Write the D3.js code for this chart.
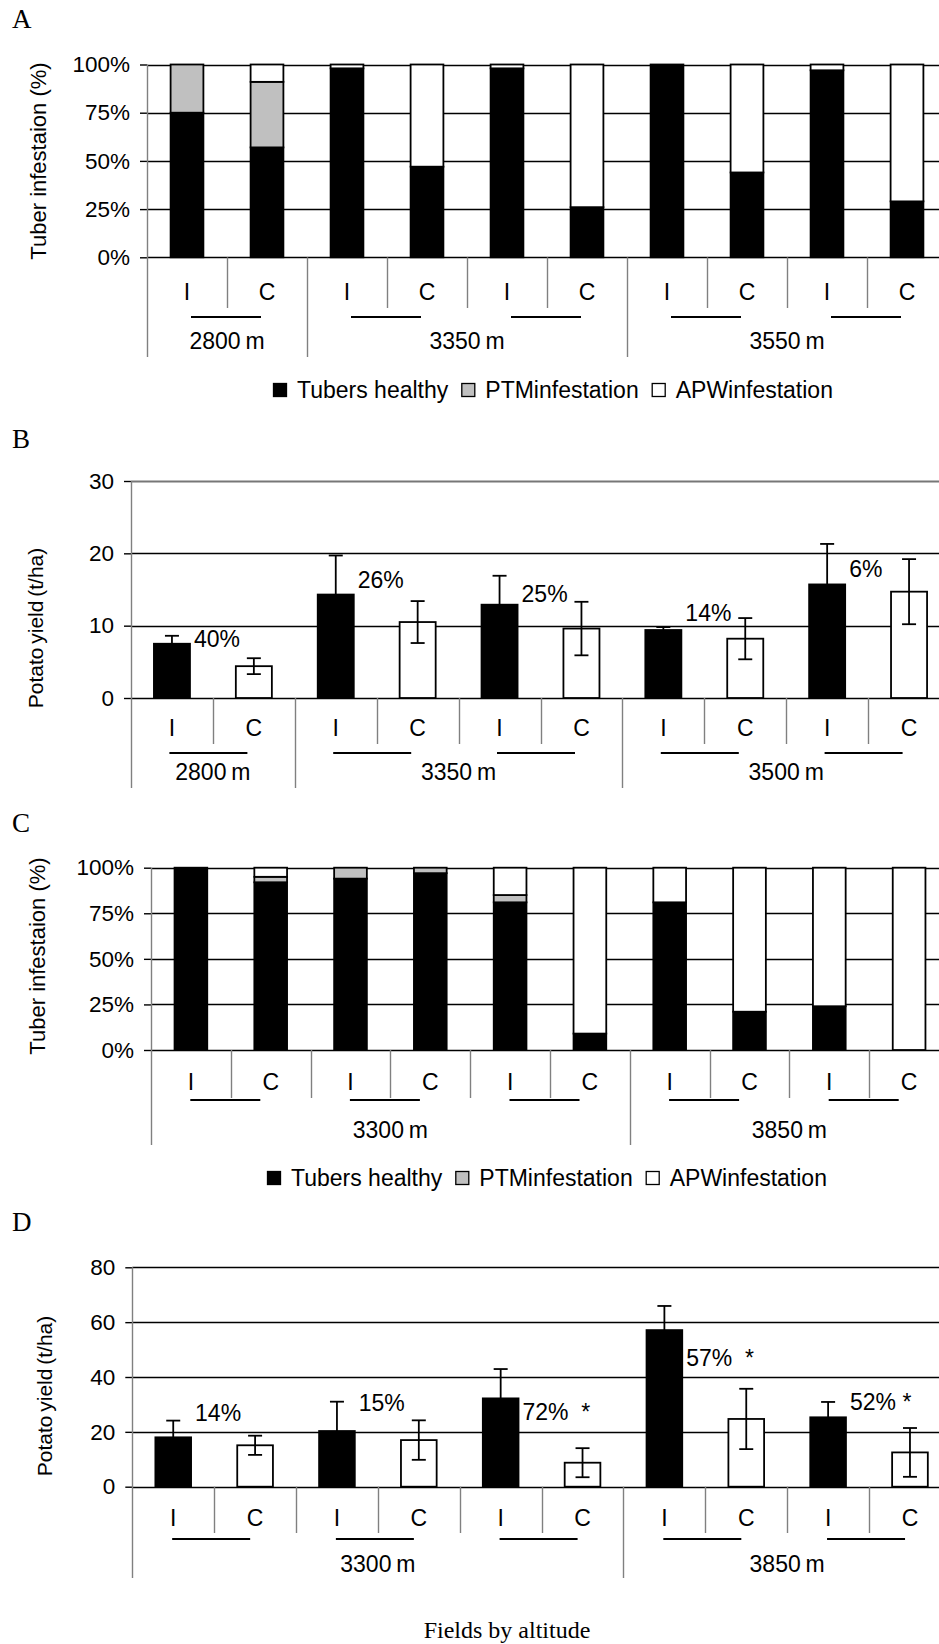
<!DOCTYPE html>
<html>
<head>
<meta charset="utf-8">
<script src="https://cdn.jsdelivr.net/npm/d3@7"></script>
<style>
  html, body { margin: 0; padding: 0; background: #fff; }
  svg text { font-family: "Liberation Sans", Arial, sans-serif; fill: #000; }
  svg text.serif { font-family: "Liberation Serif", "Times New Roman", serif; }
</style>
</head>
<body>
<svg id="chart" width="939" height="1644"></svg>
<script>
//******************************************************************************
//**  Data
//******************************************************************************
var treatments = ["I", "C", "I", "C", "I", "C", "I", "C", "I", "C"];
var stackKeys = ["healthy", "ptm", "apw"];
var legendLabels = ["Tubers healthy", "PTMinfestation", "APWinfestation"];

// A: tuber infestation (%)
var aGroups = ["2800 m", "3350 m", "3550 m"];
var aGroupSizes = [2, 4, 4];
var aHealthy = [75, 57, 98, 47, 98, 26, 100, 44, 97, 29];
var aPTM     = [25, 34, 0, 0, 0, 0, 0, 0, 0, 0];
var aAPW     = [0, 9, 2, 53, 2, 74, 0, 56, 3, 71];

// B: potato yield (t/ha)
var bGroups = ["2800 m", "3350 m", "3500 m"];
var bGroupSizes = [2, 4, 4];
var bYield = [7.5, 4.4, 14.3, 10.5, 12.9, 9.6, 9.4, 8.2, 15.7, 14.7];
var bError = [1.1, 1.1, 5.4, 2.9, 4.0, 3.7, 0.4, 2.85, 5.6, 4.5];
var bNotes = ["40%", "26%", "25%", "14%", "6%"];
var bNoteAt = [8.2, 16.3, 14.4, 11.8, 17.8];

// C: tuber infestation (%)
var cGroups = ["3300 m", "3850 m"];
var cGroupSizes = [6, 4];
var cHealthy = [100, 92, 94, 97, 81, 9, 81, 21, 24, 0];
var cPTM     = [0, 3, 6, 3, 4, 0, 0, 0, 0, 0];
var cAPW     = [0, 5, 0, 0, 15, 91, 19, 79, 76, 100];

// D: potato yield (t/ha)
var dGroups = ["3300 m", "3850 m"];
var dGroupSizes = [6, 4];
var dYield = [18, 15.1, 20.3, 17, 32.2, 8.75, 57.1, 24.7, 25.3, 12.5];
var dError = [6.1, 3.5, 10.7, 7.2, 10.7, 5.3, 8.8, 11, 5.6, 8.9];
var dNotes = ["14%", "15%", "72%  *", "57%  *", "52% *"];
var dNoteAt = [27, 30.6, 27.4, 46.8, 31];

var stackColors = ["#000000", "#c0c0c0", "#ffffff"];
var W = 939, H = 1644;
var FS = 23;

var svg = d3.select("#chart");
svg.append("rect").attr("width", W).attr("height", H).attr("fill", "#fff");


//**************************************************************************
//** drawFrame
//**************************************************************************
  // axes, gridlines, category labels, group labels and underlines
    var drawFrame = function(cfg){
        var g = svg.append("g");
        var n = treatments.length;

        var xb = d3.scaleLinear().domain([0, n]).range([cfg.x0, cfg.x0 + n*cfg.band]);
        var x = d3.scaleBand().domain(d3.range(n))
            .range([cfg.x0, cfg.x0 + n*cfg.band])
            .paddingInner(1 - cfg.barFrac)
            .paddingOuter((1 - cfg.barFrac)/2);
        var y = d3.scaleLinear().domain(cfg.domain).range([cfg.yBottom, cfg.yTop]);

      // gridlines
        g.append("g").selectAll("line").data(cfg.ticks).enter().append("line")
            .attr("x1", cfg.x0).attr("x2", W)
            .attr("y1", function(d){ return Math.round(y(d)) + 0.5; })
            .attr("y2", function(d){ return Math.round(y(d)) + 0.5; })
            .attr("stroke", function(d){ return (cfg.greyTop && d === cfg.domain[1]) ? "#777" : "#000"; })
            .attr("stroke-width", function(d){ return (cfg.greyTop && d === cfg.domain[1]) ? 2 : 1.4; });

      // y axis
        var axis = d3.axisLeft(y).tickValues(cfg.ticks).tickSize(7).tickPadding(10)
            .tickFormat(cfg.format);
        var ag = g.append("g").attr("transform", "translate(" + cfg.x0 + ",0)").call(axis);
        ag.select(".domain").remove();
        ag.selectAll("line").attr("stroke", "#000").attr("stroke-width", 1.4);
        ag.selectAll("text").attr("font-size", 22.5)
            .attr("font-family", "Liberation Sans, Arial, sans-serif");

      // y axis title
        g.append("text")
            .attr("transform", "translate(" + cfg.titleX + "," + cfg.titleY + ") rotate(-90)")
            .attr("text-anchor", "middle")
            .attr("dy", "0.35em")
            .attr("font-size", cfg.titleSize)
            .attr("word-spacing", cfg.titleWs)
            .text(cfg.title);

      // separators: long at group boundaries, short between categories
        var bounds = [0], acc = 0;
        cfg.groupSizes.forEach(function(s){ acc += s; bounds.push(acc); });
        var seps = d3.range(n + 1);
        g.append("g").selectAll("line").data(seps).enter().append("line")
            .attr("x1", function(d){ return Math.round(xb(d)) + 0.5; })
            .attr("x2", function(d){ return Math.round(xb(d)) + 0.5; })
            .attr("y1", function(d){ return d === 0 ? cfg.yTop : cfg.yBottom; })
            .attr("y2", function(d){ return bounds.indexOf(d) >= 0 ? cfg.longBottom : cfg.shortBottom; })
            .attr("stroke", "#808080")
            .attr("stroke-width", 1.4);

      // I / C labels
        g.append("g").selectAll("text").data(treatments).enter().append("text")
            .attr("x", function(d, i){ return x(i) + x.bandwidth()/2; })
            .attr("y", cfg.catY)
            .attr("dy", "0.35em")
            .attr("text-anchor", "middle")
            .attr("font-size", FS)
            .text(function(d){ return d; });

      // underlines joining each I/C pair
        var pairs = d3.range(n/2);
        g.append("g").selectAll("line").data(pairs).enter().append("line")
            .attr("x1", function(k){ return xb(2*k + 1) + cfg.ulShift - cfg.ulLen/2; })
            .attr("x2", function(k){ return xb(2*k + 1) + cfg.ulShift + cfg.ulLen/2; })
            .attr("y1", cfg.ulY).attr("y2", cfg.ulY)
            .attr("stroke", "#000").attr("stroke-width", 2);

      // group labels
        g.append("g").selectAll("text").data(cfg.groups).enter().append("text")
            .attr("x", function(d, i){ return (xb(bounds[i]) + xb(bounds[i+1]))/2; })
            .attr("y", cfg.groupY)
            .attr("dy", "0.35em")
            .attr("text-anchor", "middle")
            .attr("font-size", FS)
            .attr("word-spacing", -1.5)
            .text(function(d){ return d; });

      // panel letter
        g.append("text").attr("class", "serif")
            .attr("x", 12).attr("y", cfg.letterY)
            .attr("font-size", 27)
            .text(cfg.letter);

        return {g: g, x: x, y: y};
    };


//**************************************************************************
//** drawStacked
//**************************************************************************
    var drawStacked = function(frame, healthy, ptm, apw){
        var rows = treatments.map(function(t, i){
            return {healthy: healthy[i], ptm: ptm[i], apw: apw[i]};
        });
        var series = d3.stack().keys(stackKeys)(rows);
        var x = frame.x, y = frame.y;

        frame.g.append("g").selectAll("g").data(series).enter().append("g")
            .attr("fill", function(d, i){ return stackColors[i]; })
            .selectAll("rect")
            .data(function(d){ return d.map(function(v, i){ return {v: v, i: i}; })
                .filter(function(o){ return o.v[1] - o.v[0] > 0; }); })
            .enter().append("rect")
            .attr("x", function(o){ return x(o.i); })
            .attr("width", x.bandwidth())
            .attr("y", function(o){ return y(o.v[1]); })
            .attr("height", function(o){ return y(o.v[0]) - y(o.v[1]); })
            .attr("stroke", "#000")
            .attr("stroke-width", 1.8);
    };


//**************************************************************************
//** drawYield
//**************************************************************************
    var drawYield = function(frame, values, errors, notes, noteAt){
        var x = frame.x, y = frame.y;
        var g = frame.g.append("g");

        g.selectAll("rect").data(values).enter().append("rect")
            .attr("x", function(d, i){ return x(i); })
            .attr("width", x.bandwidth())
            .attr("y", function(d){ return y(d); })
            .attr("height", function(d){ return y(0) - y(d); })
            .attr("fill", function(d, i){ return treatments[i] === "I" ? "#000" : "#fff"; })
            .attr("stroke", "#000")
            .attr("stroke-width", 1.8);

        var cap = 7;
        var eb = g.selectAll("g.err").data(values).enter().append("g").attr("class", "err")
            .attr("stroke", "#000").attr("stroke-width", 1.8);
        eb.append("line")
            .attr("x1", function(d, i){ return x(i) + x.bandwidth()/2; })
            .attr("x2", function(d, i){ return x(i) + x.bandwidth()/2; })
            .attr("y1", function(d, i){ return y(d - errors[i]); })
            .attr("y2", function(d, i){ return y(d + errors[i]); });
        [-1, 1].forEach(function(s){
            eb.append("line")
                .attr("x1", function(d, i){ return x(i) + x.bandwidth()/2 - cap; })
                .attr("x2", function(d, i){ return x(i) + x.bandwidth()/2 + cap; })
                .attr("y1", function(d, i){ return y(d + s*errors[i]); })
                .attr("y2", function(d, i){ return y(d + s*errors[i]); });
        });

        g.selectAll("text.note").data(notes).enter().append("text").attr("class", "note")
            .attr("x", function(d, k){ return x(2*k) + x.bandwidth() + 4; })
            .attr("y", function(d, k){ return y(noteAt[k]); })
            .attr("dy", "0.35em")
            .attr("font-size", FS)
            .style("white-space", "pre")
            .text(function(d){ return d; });
    };


//**************************************************************************
//** drawLegend
//**************************************************************************
    var drawLegend = function(x0, yc){
        var g = svg.append("g");
        var cx = x0;
        legendLabels.forEach(function(label, i){
            g.append("rect")
                .attr("x", cx + 0.5).attr("y", yc - 6.5)
                .attr("width", 13).attr("height", 13)
                .attr("fill", stackColors[i])
                .attr("stroke", "#000").attr("stroke-width", 1.3);
            var t = g.append("text")
                .attr("x", cx + 24).attr("y", yc)
                .attr("dy", "0.35em")
                .attr("font-size", FS)
                .text(label);
            cx += 24 + t.node().getComputedTextLength() + 13;
        });
    };


//**************************************************************************
//** Panels
//**************************************************************************
    var pct = function(d){ return d + "%"; };

    var fA = drawFrame({
        letter: "A", letterY: 28,
        x0: 147, band: 80, barFrac: 0.41,
        yTop: 64.5, yBottom: 257.3, domain: [0, 100], ticks: [0, 25, 50, 75, 100], format: pct,
        title: "Tuber infestaion (%)", titleX: 38, titleY: 161, titleSize: 22, titleWs: 0,
        groups: aGroups, groupSizes: aGroupSizes,
        shortBottom: 308, longBottom: 357, catY: 292,
        ulY: 317, ulShift: -1, ulLen: 70, groupY: 341
    });
    drawStacked(fA, aHealthy, aPTM, aAPW);
    drawLegend(273, 390);

    var fB = drawFrame({
        letter: "B", letterY: 448,
        x0: 131, band: 81.9, barFrac: 0.44, greyTop: true,
        yTop: 481, yBottom: 698, domain: [0, 30], ticks: [0, 10, 20, 30], format: d3.format("d"),
        title: "Potato yield (t/ha)", titleX: 36, titleY: 628, titleSize: 21, titleWs: -2,
        groups: bGroups, groupSizes: bGroupSizes,
        shortBottom: 744, longBottom: 788, catY: 728,
        ulY: 753, ulShift: -4.5, ulLen: 78, groupY: 772
    });
    drawYield(fB, bYield, bError, bNotes, bNoteAt);

    var fC = drawFrame({
        letter: "C", letterY: 832,
        x0: 151, band: 79.8, barFrac: 0.41,
        yTop: 867.7, yBottom: 1050, domain: [0, 100], ticks: [0, 25, 50, 75, 100], format: pct,
        title: "Tuber infestaion (%)", titleX: 37, titleY: 956, titleSize: 22, titleWs: 0,
        groups: cGroups, groupSizes: cGroupSizes,
        shortBottom: 1098, longBottom: 1145, catY: 1082,
        ulY: 1100, ulShift: -5.5, ulLen: 70, groupY: 1130
    });
    drawStacked(fC, cHealthy, cPTM, cAPW);
    drawLegend(267, 1178);

    var fD = drawFrame({
        letter: "D", letterY: 1231,
        x0: 132.3, band: 81.86, barFrac: 0.436,
        yTop: 1267.3, yBottom: 1486.7, domain: [0, 80], ticks: [0, 20, 40, 60, 80], format: d3.format("d"),
        title: "Potato yield (t/ha)", titleX: 45, titleY: 1396, titleSize: 21, titleWs: -2,
        groups: dGroups, groupSizes: dGroupSizes,
        shortBottom: 1533, longBottom: 1578, catY: 1518,
        ulY: 1539, ulShift: -3, ulLen: 78, groupY: 1564
    });
    drawYield(fD, dYield, dError, dNotes, dNoteAt);

  // x axis title
    svg.append("text").attr("class", "serif")
        .attr("x", 507).attr("y", 1638)
        .attr("text-anchor", "middle")
        .attr("font-size", 24)
        .text("Fields by altitude");
</script>
</body>
</html>
